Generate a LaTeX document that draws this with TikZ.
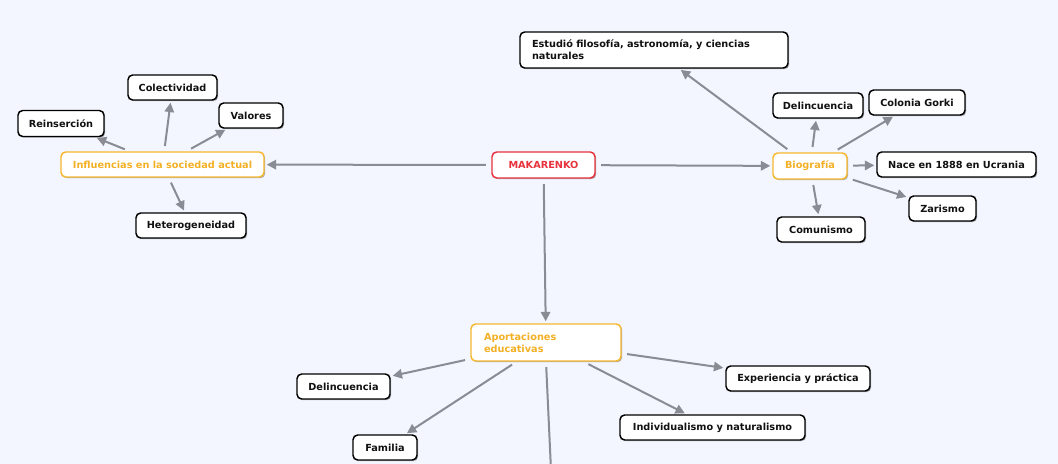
\documentclass[tikz,border=0pt]{standalone}
\usepackage{fontspec}
\setmainfont{DejaVu Sans}
\usetikzlibrary{arrows.meta,shadows}
\definecolor{bgc}{RGB}{243,246,254}
\definecolor{linec}{RGB}{138,140,148}
\definecolor{orangec}{RGB}{246,184,46}
\definecolor{orangetxt}{RGB}{244,176,36}
\definecolor{redc}{RGB}{232,50,60}
\definecolor{txtc}{RGB}{17,17,17}
\newdimen\pxu \pxu=0.75pt
\tikzset{
  box/.style={draw=black, line width=1.1pt, fill=white, rounded corners=3.5pt,
    text=txtc, inner xsep=4pt, inner ysep=0pt, align=center,
    font=\fontsize{7.3}{9}\selectfont\bfseries,
    drop shadow={shadow xshift=0.9pt, shadow yshift=-0.9pt, fill=black, opacity=0.3}},
  obox/.style={box, draw=orangec, text=orangetxt},
  rbox/.style={box, draw=redc, text=redc},
  conn/.style={draw=linec, line width=1.5pt, -{Triangle[length=7pt,width=7pt]},
    shorten <=4pt, shorten >=1.5pt}
}
\begin{document}
\begin{tikzpicture}[x=0.75pt,y=-0.75pt]
\fill[bgc] (0,0) rectangle (1058,464);
\useasboundingbox (0,0) rectangle (1058,464);
\begin{scope}
\clip (0,0) rectangle (1058,464);
\node[rbox, minimum width=103\pxu, minimum height=26\pxu] (mak) at (543.5,165) {MAKARENKO};
\node[obox, minimum width=203\pxu, minimum height=25\pxu] (infl) at (162.5,164.5) {Influencias en la sociedad actual};
\node[box, minimum width=86\pxu, minimum height=26\pxu] (rein) at (61,123.5) {Reinserción};
\node[box, minimum width=89\pxu, minimum height=25\pxu] (colec) at (172.5,87.5) {Colectividad};
\node[box, minimum width=64\pxu, minimum height=25\pxu] (val) at (251,115.5) {Valores};
\node[box, minimum width=110\pxu, minimum height=25\pxu] (het) at (191,225.5) {Heterogeneidad};
\node[box, minimum height=36\pxu, text width=244\pxu, inner xsep=12\pxu, align=left] (est) at (654,50) {Estudió filosofía, astronomía, y ciencias\\naturales};
\node[box, minimum width=90\pxu, minimum height=25\pxu] (del1) at (818,105.5) {Delincuencia};
\node[box, minimum width=96\pxu, minimum height=25\pxu] (gorki) at (917,102.5) {Colonia Gorki};
\node[obox, minimum width=74\pxu, minimum height=26\pxu] (bio) at (810,166) {Biografía};
\node[box, minimum width=159\pxu, minimum height=25\pxu] (nace) at (956.5,164.5) {Nace en 1888 en Ucrania};
\node[box, minimum width=67\pxu, minimum height=25\pxu] (zar) at (942.5,208.5) {Zarismo};
\node[box, minimum width=88\pxu, minimum height=25\pxu] (com) at (821,229.5) {Comunismo};
\node[obox, minimum height=37\pxu, text width=124\pxu, inner xsep=13\pxu, align=left] (aport) at (546,342.5) {Aportaciones\\educativas};
\node[box, minimum width=93\pxu, minimum height=25\pxu] (del2) at (343.5,386.5) {Delincuencia};
\node[box, minimum width=64\pxu, minimum height=25\pxu] (fam) at (385,447.5) {Familia};
\node[box, minimum width=144\pxu, minimum height=25\pxu] (exp) at (798,378.5) {Experiencia y práctica};
\node[box, minimum width=185\pxu, minimum height=25\pxu] (ind) at (712.5,427.5) {Individualismo y naturalismo};
\coordinate (down) at (551,470);

\draw[conn] (mak) -- (infl);
\draw[conn] (mak) -- (bio);
\draw[conn] (mak) -- (aport);
\draw[conn] (infl) -- (rein);
\draw[conn] (infl) -- (colec);
\draw[conn] (infl) -- (val);
\draw[conn] (infl) -- (het);
\draw[conn] (bio) -- (est);
\draw[conn] (bio) -- (del1);
\draw[conn] (bio) -- (gorki);
\draw[conn] (bio) -- (nace);
\draw[conn] (bio) -- (zar);
\draw[conn] (bio) -- (com);
\draw[conn] (aport) -- (del2);
\draw[conn] (aport) -- (fam);
\draw[conn] (aport) -- (ind);
\draw[conn] (aport) -- (exp);
\draw[draw=linec, line width=1.5pt, shorten <=4pt] (aport.south) -- (down);
\end{scope}
\end{tikzpicture}
\end{document}
